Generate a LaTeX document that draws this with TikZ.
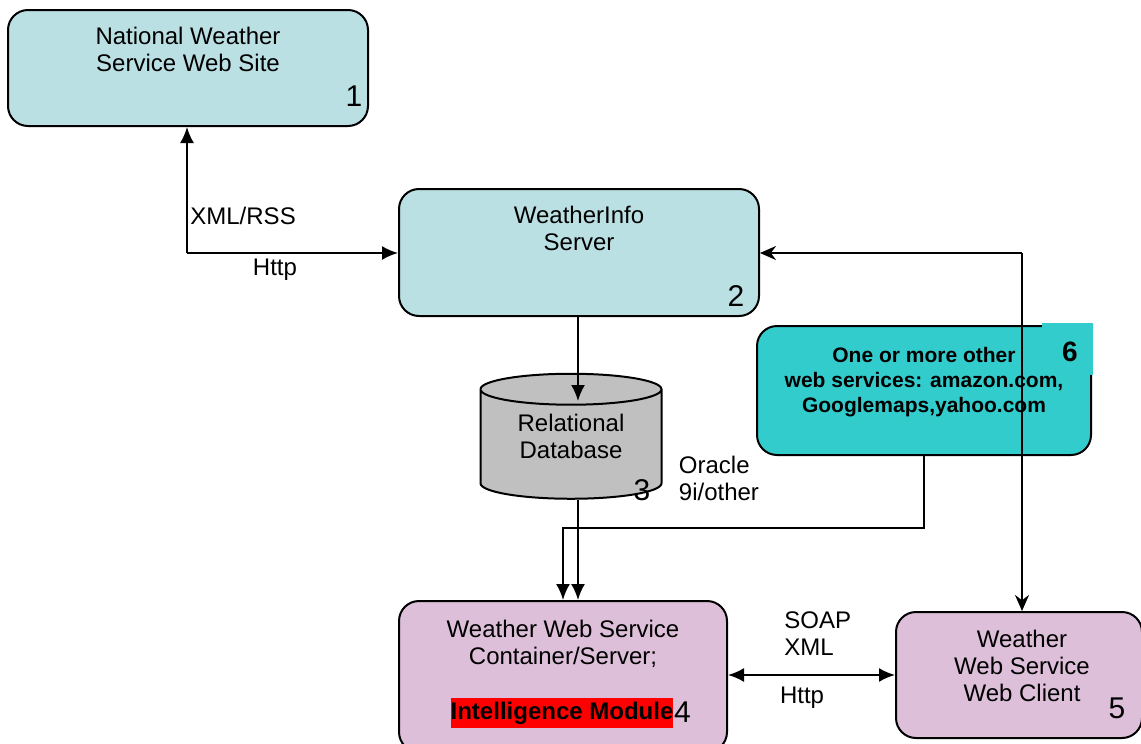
\documentclass[tikz,border=0pt]{standalone}
\usepackage{fontspec}
\setmainfont{Liberation Sans}
\usetikzlibrary{positioning,shapes.geometric,arrows.meta}

\definecolor{lightteal}{HTML}{BBE0E3}
\definecolor{lightplum}{HTML}{DDBFD9}
\definecolor{dbgray}{HTML}{C0C0C0}
\definecolor{svcteal}{HTML}{33CCCC}

\begin{document}
\begin{tikzpicture}[
x=0.5pt,y=-0.5pt,
box/.style={
  draw,
  line width=1pt,
  rounded corners=10pt,
  inner sep=0pt
  },
txt/.style={
  font=\fontsize{12}{13.5}\selectfont,
  align=center,
  inner sep=0pt
  },
num/.style={
  font=\fontsize{15}{15}\selectfont,
  inner sep=0pt
  },
line/.style={
  line width=1pt
  },
>={Latex[length=8pt,width=7pt]}
]
\useasboundingbox (0,0) rectangle (1141,744);

% servers and sites
\node[box, fill=lightteal, minimum width=180pt, minimum height=58pt] (nws) at (188,68) {};
\node[txt, below=9pt of nws.north] (nws-t) {National Weather\\Service Web Site};
\node[num] (n1) at ([shift={(-15,-31)}]nws.south east) {1};

\node[box, fill=lightteal, minimum width=180pt, minimum height=63.5pt] (ws) at (579,252.5) {};
\node[txt, below=9pt of ws.north] (ws-t) {WeatherInfo\\Server};
\node[num] (n2) at ([shift={(-24,-21)}]ws.south east) {2};

\node[draw, line width=1pt, fill=dbgray, shape=cylinder, shape border rotate=90, aspect=0.29,
  minimum width=90.5pt, minimum height=62.5pt, inner sep=0pt, txt, text depth=8.5pt] (db) at (571,444.5) {Relational\\Database};
\node[num] (n3) at ([shift={(71,45.5)}]db.center) {3};
\node[txt, align=left, anchor=west] (ora) at ([shift={(16,34)}]db.east) {Oracle\\9i/other};

\node[box, fill=svcteal, minimum width=167pt, minimum height=64.5pt] (oth) at (924,390.5) {};
\node[fill=svcteal, minimum width=25.5pt, minimum height=26pt, inner sep=0pt] (sq6) at (1067.5,349) {};
\node[font=\fontsize{14}{14}\selectfont\bfseries, inner sep=0pt] (n6) at (1070,352) {6};
\node[txt, font=\fontsize{10.5}{12.5}\selectfont\bfseries, below=11pt of oth.north] (oth-t)
  {One or more other\\web services: amazon.com,\\Googlemaps,yahoo.com};

\node[box, fill=lightplum, minimum width=164pt, minimum height=75.5pt] (ctr) at (563,676.5) {};
\node[txt, below=10pt of ctr.north] (ctr-t) {Weather Web Service\\Container/Server;};
\node[txt, font=\fontsize{12}{12}\selectfont\bfseries, fill=red, inner ysep=2pt] (im) at (562,713) {Intelligence Module};
\node[num, anchor=south west] (n4) at ([yshift=3]im.south east) {4};

\node[box, fill=lightplum, minimum width=123pt, minimum height=63pt] (cli) at (1019,675) {};
\node[txt, below=9.5pt of cli.north, xshift=1.5pt] (cli-t) {Weather\\Web Service\\Web Client};
\node[num] (n5) at ([shift={(-26,-31)}]cli.south east) {5};

% connectors
\coordinate (c12) at (187,253);
\draw[line, ->] (c12) -- (c12 |- nws.south);
\draw[line, ->] (c12) -- (c12 -| ws.west);
\node[txt, anchor=west] (xml) at ([shift={(3,-37)}]c12) {XML/RSS};
\node[txt] (http1) at ([shift={(88,17)}]c12) {Http};

\coordinate (dbin) at (578,401);
\draw[line, ->] (dbin |- ws.south) -- (dbin);
\coordinate (dbout) at (578,500);
\draw[line, ->] (dbout) -- (dbout |- ctr.north);

\coordinate (c64) at (563,528);
\draw[line, ->] (oth.south) |- (c64) -- (c64 |- ctr.north);

\coordinate (c25) at (1022,253);
\draw[line, -{Stealth[length=8pt,width=7pt]}] (c25) -- (c25 -| ws.east);
\draw[line, -{Stealth[length=8pt,width=7pt]}] (c25) -- (c25 |- cli.north);

\draw[line, <->] (cli.west -| ctr.east) -- (cli.west);
\node[txt, align=left, anchor=west] (soap) at ([shift={(56,-43)}]ctr.east) {SOAP\\XML};
\node[txt] (http2) at ([shift={(74,21.5)}]ctr.east) {Http};
\end{tikzpicture}
\end{document}
